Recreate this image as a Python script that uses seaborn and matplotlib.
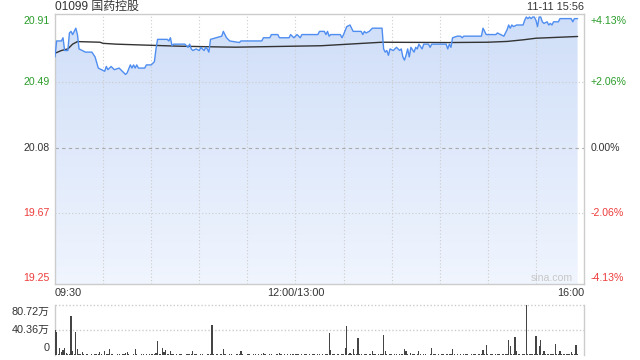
import numpy as np
import matplotlib
matplotlib.use("Agg")
import matplotlib.pyplot as plt
import matplotlib.transforms as mtransforms
from matplotlib.colors import LinearSegmentedColormap
import seaborn as sns

# ---------------- data ----------------
title = "01099 国药控股"
stamp = "11-11 15:56"
prev_close = 20.08
price_ticks = [20.91, 20.49, 20.08, 19.67, 19.25]
price_tick_labels = ["20.91", "20.49", "20.08", "19.67", "19.25"]
pct_labels = ["+4.13%", "+2.06%", "0.00%", "-2.06%", "-4.13%"]
time_labels = ["09:30", "12:00/13:00", "16:00"]
time_label_min = [0, 150, 330]
vol_ticks = [80.72, 40.36, 0]
vol_labels = ["80.72万", "40.36万", "0"]

price_min = [0, 1, 4, 5, 6, 8, 9, 10, 11, 13, 14, 15, 17, 19, 23, 25, 27, 29, 31, 32,
             33, 35, 37, 40, 42, 44, 45, 47, 48, 49, 50, 51, 52, 56, 57, 60, 62, 63, 64, 70,
             71, 72, 73, 74, 81, 82, 83, 84, 85, 86, 88, 90, 91, 93, 94, 95, 96, 97, 104, 105,
             107, 109, 115, 116, 129, 130, 134, 135, 139, 140, 146, 147, 149, 151, 152, 153, 154, 164, 165, 168,
             169, 170, 171, 172, 178, 179, 180, 182, 184, 186, 191, 192, 193, 194, 196, 198, 204, 205, 206, 207,
             208, 209, 211, 213, 215, 216, 217, 218, 219, 220, 221, 222, 224, 225, 226, 227, 229, 230, 233, 234,
             235, 244, 245, 246, 247, 248, 251, 253, 254, 255, 262, 266, 267, 268, 269, 275, 276, 278, 280, 282,
             283, 284, 285, 286, 288, 292, 293, 294, 295, 296, 297, 298, 299, 300, 301, 302, 303, 304, 305, 307,
             308, 309, 310, 311, 314, 315, 322, 323, 324, 326]
price_val = [20.65, 20.75, 20.75, 20.77, 20.69, 20.69, 20.80, 20.81, 20.79, 20.83, 20.79, 20.70, 20.69, 20.68, 20.68, 20.65, 20.58, 20.57, 20.56, 20.59,
             20.57, 20.59, 20.57, 20.58, 20.56, 20.54, 20.55, 20.60, 20.58, 20.60, 20.58, 20.60, 20.58, 20.58, 20.60, 20.60, 20.62, 20.70, 20.76, 20.76,
             20.75, 20.77, 20.72, 20.73, 20.73, 20.72, 20.71, 20.73, 20.70, 20.69, 20.70, 20.69, 20.71, 20.69, 20.71, 20.70, 20.68, 20.76, 20.78, 20.81,
             20.77, 20.75, 20.74, 20.75, 20.75, 20.77, 20.77, 20.79, 20.79, 20.77, 20.77, 20.79, 20.77, 20.79, 20.78, 20.77, 20.79, 20.79, 20.81, 20.81,
             20.79, 20.81, 20.78, 20.79, 20.79, 20.77, 20.79, 20.84, 20.85, 20.81, 20.81, 20.79, 20.81, 20.80, 20.81, 20.83, 20.83, 20.70, 20.68, 20.69,
             20.66, 20.70, 20.69, 20.71, 20.69, 20.70, 20.65, 20.63, 20.66, 20.70, 20.65, 20.71, 20.68, 20.71, 20.70, 20.73, 20.70, 20.73, 20.73, 20.71,
             20.73, 20.73, 20.70, 20.73, 20.71, 20.77, 20.78, 20.78, 20.77, 20.78, 20.78, 20.78, 20.83, 20.81, 20.79, 20.79, 20.80, 20.79, 20.78, 20.82,
             20.85, 20.83, 20.85, 20.84, 20.85, 20.85, 20.88, 20.90, 20.89, 20.90, 20.89, 20.90, 20.90, 20.88, 20.84, 20.90, 20.90, 20.87, 20.86, 20.87,
             20.85, 20.86, 20.85, 20.87, 20.87, 20.89, 20.89, 20.87, 20.89, 20.89]

avg_min = [0, 4, 8, 11, 14, 28, 30, 38, 50, 78, 105, 113, 166, 204, 245, 270, 282, 292, 300, 326]
avg_val = [20.673, 20.69, 20.70, 20.73, 20.746, 20.742, 20.735, 20.73, 20.726, 20.717, 20.712, 20.711, 20.72, 20.742, 20.74, 20.742, 20.747, 20.757, 20.767, 20.778]

volume = [
    40.4, 36.6, 2.0, 10.8, 5.4, 8.0, 10.8, 3.0, 2.0, 1.5,
    63.0, 7.0, 2.0, 37.7, 9.7, 2.0, 1.2, 5.0, 1.0, 0.8,
    1.0, 0.6, 0.8, 1.2, 0.7, 1.0, 0.9, 1.1, 5.0, 1.0,
    0.8, 6.5, 2.0, 1.0, 9.7, 2.0, 1.0, 0.7, 0.8, 1.2,
    0.9, 0.6, 1.0, 1.5, 4.0, 5.0, 1.0, 0.8, 0.7, 1.0,
    9.7, 1.2, 0.8, 0.6, 1.0, 0.9, 0.7, 1.1, 0.8, 1.0,
    0.9, 1.2, 2.0, 3.0, 23.0, 2.0, 1.0, 11.8, 5.0, 8.0,
    2.0, 1.0, 6.5, 2.0, 1.0, 0.8, 1.0, 0.7, 0.9, 1.2,
    0.6, 0.8, 1.0, 0.9, 1.2, 1.5, 6.5, 2.0, 1.0, 0.8,
    0.7, 1.0, 0.9, 0.6, 0.8, 1.0, 1.2, 1.5, 48.4, 1.0,
    0.8, 0.9, 0.7, 1.0, 1.2, 9.7, 2.0, 0.8, 0.6, 0.9,
    1.0, 0.7, 0.8, 1.1, 0.9, 1.0, 6.5, 1.2, 0.8, 0.7,
    0.9, 1.0, 0.6, 0.8, 1.1, 0.9, 0.7, 1.0, 0.8, 1.2,
    4.0, 1.0, 0.8, 0.7, 0.9, 1.0, 0.6, 0.8, 1.1, 0.9,
    4.0, 1.0, 0.7, 0.9, 0.8, 1.0, 0.6, 1.2, 0.9, 1.5,
    2.0, 1.2, 0.9, 0.8, 1.0, 0.7, 0.9, 1.1, 0.8, 1.0,
    0.7, 0.9, 1.0, 0.8, 1.2, 0.9, 0.7, 1.0, 0.8, 1.5,
    2.0, 36.0, 8.0, 1.2, 1.0, 0.8, 0.9, 1.0, 0.7, 1.5,
    2.0, 10.8, 46.8, 1.5, 4.0, 1.0, 9.7, 1.2, 0.9, 28.0,
    1.5, 1.0, 0.8, 0.9, 1.0, 0.7, 1.2, 1.0, 6.5, 1.5,
    1.0, 0.8, 0.9, 1.0, 1.5, 32.3, 6.5, 1.0, 0.8, 0.9,
    1.0, 0.7, 1.2, 0.9, 0.8, 1.0, 1.5, 2.0, 9.7, 6.5,
    1.0, 0.8, 4.0, 1.0, 0.9, 0.7, 1.0, 6.5, 1.2, 0.8,
    0.9, 1.0, 0.7, 0.8, 1.2, 10.8, 1.5, 0.9, 0.8, 1.0,
    0.7, 0.9, 1.0, 0.8, 1.2, 0.9, 1.0, 1.5, 9.7, 1.0,
    0.8, 0.9, 0.7, 1.0, 0.8, 1.1, 0.9, 1.0, 0.7, 0.8,
    1.0, 0.9, 1.2, 0.8, 1.0, 1.5, 2.0, 8.0, 1.5, 16.0,
    1.0, 0.8, 0.9, 1.0, 0.7, 0.9, 1.2, 1.0, 0.8, 1.5,
    1.0, 1.5, 2.0, 24.0, 15.0, 2.0, 1.5, 29.6, 6.5, 1.5,
    1.0, 0.8, 1.2, 1.5, 80.72, 1.0, 0.9, 1.2, 1.5, 2.0,
    31.2, 2.0, 15.0, 24.0, 2.0, 6.5, 1.5, 1.0, 1.2, 2.0,
    1.5, 1.0, 17.8, 1.5, 2.0, 6.5, 1.0, 2.0, 1.5, 1.0,
    1.2, 2.0, 5.0, 1.5, 1.0, 16.0, 1.5,
]
vol_min = list(range(len(volume)))

# ---------------- style ----------------
sns.set_style("white")
FAM = ["Liberation Sans", "Noto Sans CJK SC", "DejaVu Sans"]
plt.rcParams["font.family"] = FAM

GREEN = "#2a9d2a"
RED = "#ee3b3b"
DARK = "#333333"
GRID = "#cccccc"
label_colors = [GREEN, GREEN, DARK, RED, RED]

W, H = 640, 360
fig = plt.figure(figsize=(6.4, 3.6), dpi=100)
fig.patch.set_facecolor("white")

# main price axes
ax = fig.add_axes([55 / W, 1 - 284.3 / H, 529 / W, 270 / H])
y_lo, y_hi = 19.225, 20.917
ax.set_xlim(0, 330)
ax.set_ylim(y_lo, y_hi)

poly = ax.fill_between(price_min, price_val, y_lo, facecolor="none", lw=0)
cmap = LinearSegmentedColormap.from_list("g", ["#f0f5fe", "#cfdef8"])
grad = np.linspace(0, 1, 256).reshape(-1, 1)
im = ax.imshow(grad, extent=[0, 330, y_lo, y_hi], origin="lower", aspect="auto",
               cmap=cmap, zorder=1, interpolation="bilinear")
im.set_clip_path(poly.get_paths()[0], ax.transData)
ax.set_xlim(0, 330)
ax.set_ylim(y_lo, y_hi)

for m in range(30, 330, 30):
    ax.axvline(m, color=GRID, lw=0.8, ls=(0, (1, 2)), zorder=2)
for v in [price_ticks[1], price_ticks[3]]:
    ax.axhline(v, color=GRID, lw=0.8, ls=(0, (1, 2)), zorder=2)
ax.axhline(prev_close, color="#aaaaaa", lw=0.8, ls=(0, (3, 3)), zorder=2)

sns.lineplot(x=price_min, y=price_val, ax=ax, color="#4f8ef0", lw=1.0,
             estimator=None, sort=False, zorder=4)
sns.lineplot(x=avg_min, y=avg_val, ax=ax, color="#333333", lw=1.0,
             estimator=None, sort=False, zorder=3)

ax.set_xticks([])
ax.set_yticks([])
ax.set_xlabel("")
ax.set_ylabel("")
for s in ax.spines.values():
    s.set_visible(True)
    s.set_color(GRID)
    s.set_linewidth(1.0)

px = 1 / 100.0
ytr = ax.get_yaxis_transform()
offsets = [-5.3, 0, 0, 0, 2.3]
for v, lab, pct, col, off in zip(price_ticks, price_tick_labels, pct_labels, label_colors, offsets):
    t_left = ytr + mtransforms.ScaledTranslation(-5 * px, off * px, fig.dpi_scale_trans)
    ax.text(0, v, lab, transform=t_left, ha="right", va="center", fontsize=7.6, color=col)
    t_right = ytr + mtransforms.ScaledTranslation(6.5 * px, off * px, fig.dpi_scale_trans)
    ax.text(1, v, pct, transform=t_right, ha="left", va="center", fontsize=7.6, color=col)

xtr = ax.get_xaxis_transform()
has = ["left", "center", "right"]
for m, lab, ha in zip(time_label_min, time_labels, has):
    ax.text(m, 0, lab, transform=xtr + mtransforms.ScaledTranslation(0, -9 * px, fig.dpi_scale_trans),
            ha=ha, va="center", fontsize=7.8, color=DARK)

ax.text(0, 1, title, transform=ax.transAxes + mtransforms.ScaledTranslation(0, 7.5 * px, fig.dpi_scale_trans),
        ha="left", va="center", fontsize=8.6, color=DARK, family=FAM)
ax.text(1, 1, stamp, transform=ax.transAxes + mtransforms.ScaledTranslation(0, 7.5 * px, fig.dpi_scale_trans),
        ha="right", va="center", fontsize=7.8, color=DARK)
ax.text(1, 0, "sina.com", transform=ax.transAxes + mtransforms.ScaledTranslation(-11 * px, 6.5 * px, fig.dpi_scale_trans),
        ha="right", va="center", fontsize=7.6, color="#c8c8c8")

# volume axes
vax = fig.add_axes([55 / W, 1 - 355 / H, 529 / W, 50 / H])
vax.set_xlim(0, 330)
vax.set_ylim(0, vol_ticks[0])
vax.bar(vol_min, volume, width=0.75, color="#444444", lw=0, zorder=3)
for v in vol_ticks[:2]:
    vax.axhline(v, color=GRID, lw=1.0, ls=(0, (1, 1.5)), zorder=1, clip_on=False)
vax.set_xticks([])
vax.set_yticks([])
for k in ["top", "bottom"]:
    vax.spines[k].set_visible(False)
for k in ["left", "right"]:
    vax.spines[k].set_color(GRID)
    vax.spines[k].set_linewidth(1.0)
vtr = vax.get_yaxis_transform()
voffs = [-6.7, 0, 6.7]
for v, lab, off in zip(vol_ticks, vol_labels, voffs):
    vax.text(0, v, lab, transform=vtr + mtransforms.ScaledTranslation(-5 * px, off * px, fig.dpi_scale_trans),
             ha="right", va="center", fontsize=7.8, color=DARK, family=FAM)

fig.savefig("out.png", dpi=100)
